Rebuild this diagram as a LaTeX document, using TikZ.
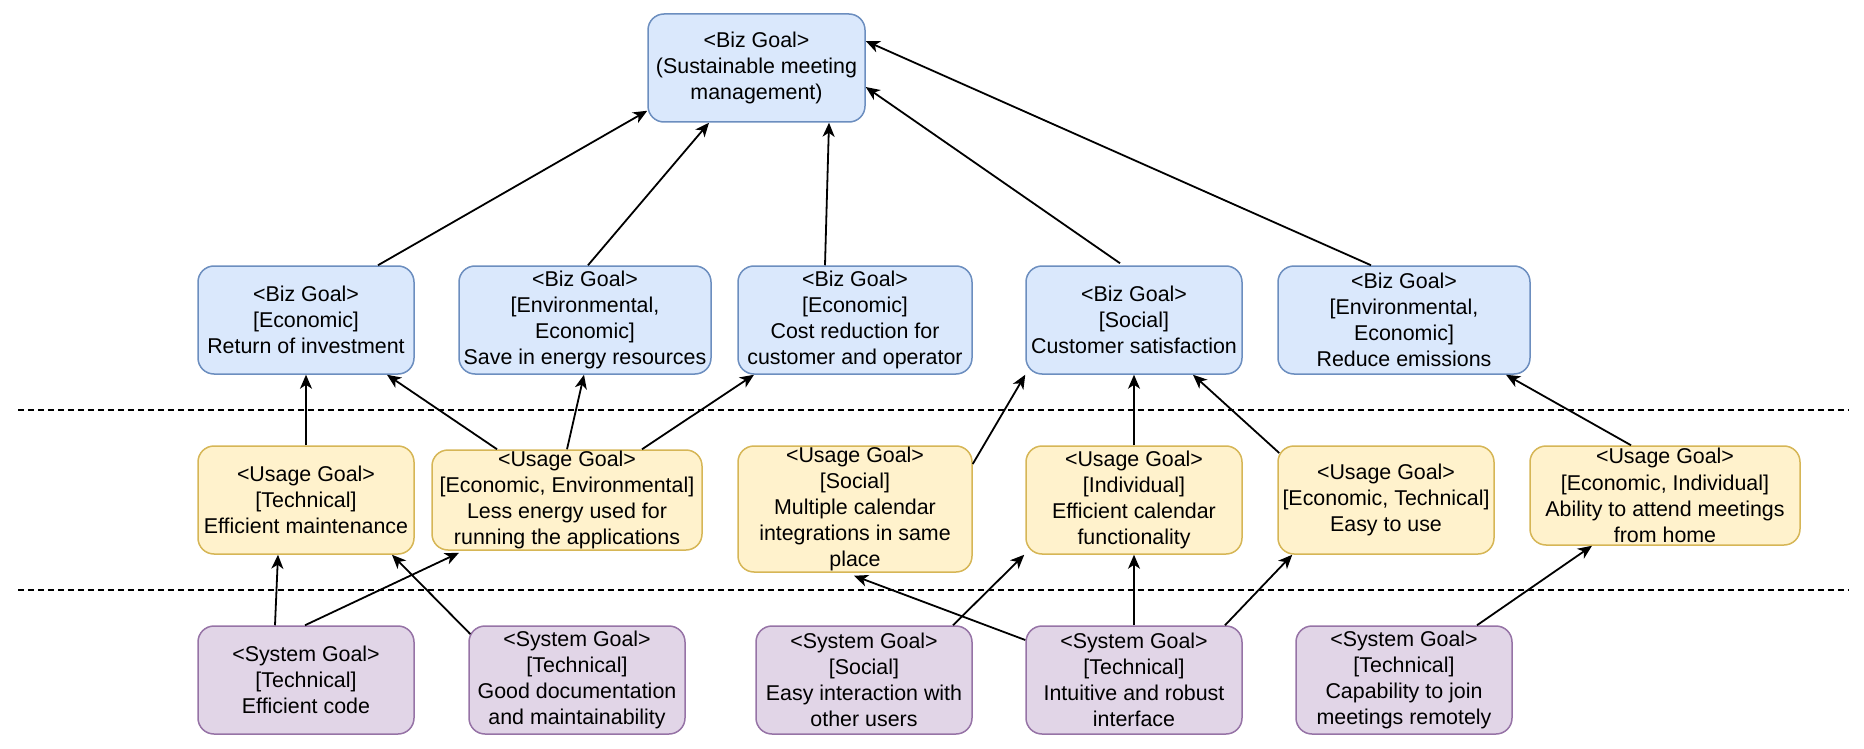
\documentclass[tikz,border=0pt]{standalone}
\usepackage{fontspec}
\setmainfont{Liberation Sans}
\usetikzlibrary{calc,arrows.meta}
\definecolor{bizfill}{HTML}{DAE8FC}
\definecolor{bizline}{HTML}{6C8EBF}
\definecolor{usefill}{HTML}{FFF2CC}
\definecolor{useline}{HTML}{D6B656}
\definecolor{sysfill}{HTML}{E1D5E7}
\definecolor{sysline}{HTML}{9673A6}
\begin{document}
\begin{tikzpicture}[x=0.5pt,y=-0.5pt,
  goal/.style={rounded corners=8pt, line width=0.75pt, align=center, inner sep=0pt,
    font=\fontsize{10.7}{13.1}\selectfont, minimum width=108pt, minimum height=54pt},
  biz/.style={goal, fill=bizfill, draw=bizline},
  usage/.style={goal, fill=usefill, draw=useline},
  sysg/.style={goal, fill=sysfill, draw=sysline},
  arr/.style={-{Stealth[length=7pt,width=6pt,inset=2pt]}, line width=0.9pt},
  sep/.style={dash pattern=on 3pt off 2pt, line width=0.75pt}
]
\useasboundingbox (0,0) rectangle (1864,749);
% separators
\draw[sep] (18,410) -- (1849,410);
\draw[sep] (18,590) -- (1849,590);
% top
\node[biz, minimum width=108.5pt] (top) at (756.5,68) {<Biz Goal>\\(Sustainable meeting\\management)};
% biz level
\node[biz] (b1) at (306,320) {<Biz Goal>\\{[Economic]}\\Return of investment};
\node[biz, minimum width=126pt] (b2) at (585,320) {<Biz Goal>\\{[Environmental,}\\Economic]\\Save in energy resources};
\node[biz, minimum width=117pt] (b3) at (855,320) {<Biz Goal>\\{[Economic]}\\Cost reduction for\\customer and operator};
\node[biz] (b4) at (1134,320) {<Biz Goal>\\{[Social]}\\Customer satisfaction};
\node[biz, minimum width=126pt] (b5) at (1404,320) {<Biz Goal>\\{[Environmental,}\\Economic]\\Reduce emissions};
% usage level
\node[usage] (u1) at (306,500) {<Usage Goal>\\{[Technical]}\\Efficient maintenance};
\node[usage, minimum width=135pt, minimum height=50pt] (u2) at (567,500) {<Usage Goal>\\{[Economic, Environmental]}\\Less energy used for\\running the applications};
\node[usage, minimum width=117pt, minimum height=63pt] (u3) at (855,509) {<Usage Goal>\\{[Social]}\\Multiple calendar\\integrations in same\\place};
\node[usage] (u4) at (1134,500) {<Usage Goal>\\{[Individual]}\\Efficient calendar\\functionality};
\node[usage] (u5) at (1386,500) {<Usage Goal>\\{[Economic, Technical]}\\Easy to use};
\node[usage, minimum width=135pt, minimum height=49.5pt] (u6) at (1665,495.5) {<Usage Goal>\\{[Economic, Individual]}\\Ability to attend meetings\\from home};
% system level
\node[sysg] (s1) at (306,680) {<System Goal>\\{[Technical]}\\Efficient code};
\node[sysg] (s2) at (577,680) {<System Goal>\\{[Technical]}\\Good documentation\\and maintainability};
\node[sysg] (s3) at (864,680) {<System Goal>\\{[Social]}\\Easy interaction with\\other users};
\node[sysg] (s4) at (1134,680) {<System Goal>\\{[Technical]}\\Intuitive and robust\\interface};
\node[sysg] (s5) at (1404,680) {<System Goal>\\{[Technical]}\\Capability to join\\meetings remotely};
% biz -> top
\draw[arr] ($(b1.north)+(72,0)$) -- ($(top.south west)+(0,-12)$);
\draw[arr] ($(b2.north)+(3,0)$) -- ($(top.south)+(-47.5,0)$);
\draw[arr] ($(b3.north)+(-30,0)$) -- ($(top.south)+(72.5,0)$);
\draw[arr] ($(b4.north)+(-14,-2)$) -- ($(top.east)+(0,19)$);
\draw[arr] ($(b5.north)+(-33,0)$) -- ($(top.east)+(0,-27)$);
% usage -> biz
\draw[arr] (u1.north) -- (b1.south);
\draw[arr] ($(u2.north)+(-70,0)$) -- ($(b1.south)+(81,0)$);
\draw[arr] (u2.north) -- ($(b2.south)+(-1,0)$);
\draw[arr] ($(u2.north)+(75,0)$) -- ($(b3.south)+(-101,0)$);
\draw[arr] ($(u3.east)+(0,-45)$) -- (b4.south west);
\draw[arr] (u4.north) -- (b4.south);
\draw[arr] ($(u5.west)+(2,-47)$) -- ($(b4.south)+(59,0)$);
\draw[arr] ($(u6.north)+(-34,0)$) -- ($(b5.south)+(102,0)$);
% system -> usage
\draw[arr] ($(s1.north)+(-31,0)$) -- ($(u1.south)+(-28,0)$);
\draw[arr] ($(s1.north)+(-1,0)$) -- ($(u2.south)+(-108,2)$);
\draw[arr] ($(s2.west)+(2,-46)$) -- ($(u1.south)+(86,0)$);
\draw[arr] ($(s3.north)+(89,0)$) -- ($(u4.south west)+(-1,0)$);
\draw[arr] ($(s4.west)+(0,-40)$) -- ($(u3.south)+(-1,3)$);
\draw[arr] (s4.north) -- (u4.south);
\draw[arr] ($(s4.north)+(91,0)$) -- ($(u5.south west)+(15,0)$);
\draw[arr] ($(s5.north)+(73,0)$) -- ($(u6.south)+(-73,0)$);
\end{tikzpicture}
\end{document}
